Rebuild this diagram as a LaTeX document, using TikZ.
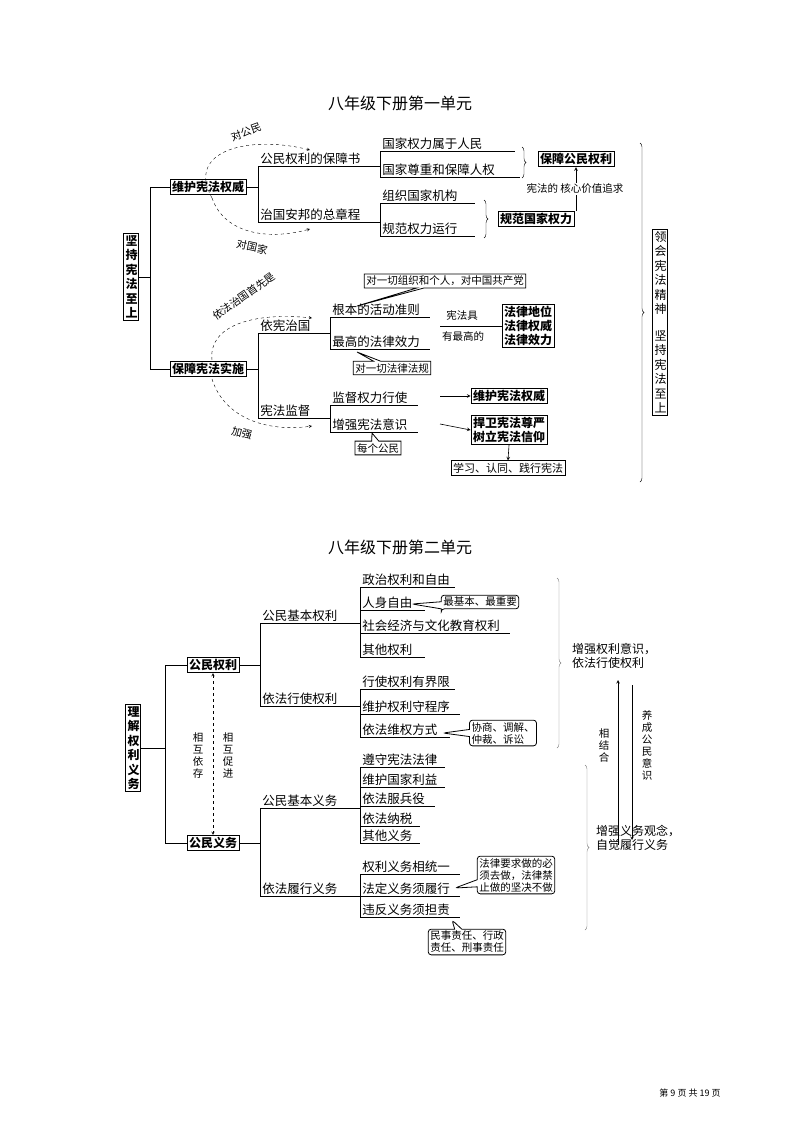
\documentclass[tikz,border=0pt]{standalone}
\usepackage{fontspec}
\setmainfont{Noto Sans CJK SC}
\usetikzlibrary{arrows, shapes.callouts, decorations.pathreplacing}

\tikzset{
  box/.style = {draw, thick, inner sep = 2pt, font = \fontsize{12}{14}\selectfont\bfseries},
  vbox/.style = {box, text width = 1.1em, align = center, font = \fontsize{12}{14.5}\selectfont\bfseries},
  item/.style = {anchor = south west, inner sep = 1pt, font = \fontsize{12.5}{14}\selectfont},
  small/.style = {font = \fontsize{10.5}{12}\selectfont},
  note/.style = {rectangle callout, draw, thick, small, inner sep = 2pt, align = left},
  brc/.style = {decorate, decoration = {brace, amplitude = 4pt}, thin},
  dsh/.style = {dashed, ->, >=stealth, thin}
}

% underlined leaf: name, x, y of line, text, line length
\newcommand{\leaf}[5]{\node (#1) [item] at (#2+1,#3) {#4}; \draw (#2,#3) -- ++(#5,0);}

\begin{document}
\begin{tikzpicture}[x = 1pt, y = -1pt, semithick]
\useasboundingbox (0,0) rectangle (800,1130);

% ---------- unit one ----------
\node (t1) at (400,103) {\fontsize{16}{19}\selectfont 八年级下册第一单元};

\node (root) [vbox] at (131,277) {坚\\持\\宪\\法\\至\\上};
\node (wh) [box] at (208,187) {维护宪法权威};
\node (bz) [box] at (208,369) {保障宪法实施};
\draw (root.east) -- (150,277); \draw (150,187) -- (wh.west);
\draw (150,187) -- (150,369) -- (bz.west);

\draw (wh.east) -- (258,187); \draw (258,166) -- (258,222);
\leaf{bzs}{258}{166}{公民权利的保障书}{122}
\leaf{zg}{258}{222}{治国安邦的总章程}{122}
\draw (380,151) -- (380,177);
\leaf{gj}{380}{151}{国家权力属于人民}{135}
\leaf{zz}{380}{177}{国家尊重和保障人权}{140}
\draw (380,203) -- (380,236);
\leaf{zj}{380}{203}{组织国家机构}{95}
\leaf{gf}{380}{236}{规范权力运行}{95}
\draw [brc] (522,147) -- (522,178);
\node (bgm) [box] at (576,159) {保障公民权利};
\draw [brc] (484,200) -- (484,238);
\node (gfq) [box] at (536,219) {规范国家权力};
\draw [->, >=stealth] (gfq.north -| bgm.south) -- (bgm.south);
\node (hx) [small, fill = white, inner sep = 1pt] at (575,189) {宪法的\ 核心价值追求};

\draw [dsh] (212,198) .. controls (185,150) and (250,135) .. (310,150);
\node (dgm) [small, rotate = 20] at (246,132) {对公民};
\draw [dsh] (212,198) .. controls (225,235) and (270,240) .. (310,229);
\node (dgj) [small, rotate = -12] at (252,247) {对国家};

\draw (bz.east) -- (258,369); \draw (258,333) -- (258,418);
\leaf{yx}{258}{333}{依宪治国}{72}
\leaf{jd}{258}{418}{宪法监督}{72}
\draw (330,317) -- (330,349);
\leaf{gb}{330}{317}{根本的活动准则}{100}
\leaf{zgx}{330}{349}{最高的法律效力}{100}
\node (n1) [note, callout absolute pointer = {(357,306)}] at (445,281) {对一切组织和个人，对中国共产党};
\node (n2) [note, callout absolute pointer = {(357,352)}] at (392,368) {对一切法律法规};
\node (fl) [box, align = center] at (528,326) {法律地位\\法律权威\\法律效力};
\draw (440,326) -- (fl.west);
\node (jy1) [small, anchor = south] at (462,324) {宪法具};
\node (jy2) [small, anchor = north] at (463,328) {有最高的};

\draw (330,405) -- (330,432);
\leaf{jdq}{330}{405}{监督权力行使}{88}
\leaf{zq}{330}{432}{增强宪法意识}{88}
\node (wq) [box] at (509,396) {维护宪法权威};
\node (hw) [box, align = center] at (509,430) {捍卫宪法尊严\\树立宪法信仰};
\node (xx) [box, font = \fontsize{11}{13}\selectfont] at (508,468) {学习、认同、践行宪法};
\draw [->, >=stealth] (440,396) -- (wq.west);
\draw [->, >=stealth] (440,424) -- (hw.west);
\draw [->, >=stealth] (hw.south) -- (xx.north);
\node (n3) [note, callout absolute pointer = {(372,433)}] at (378,448) {每个公民};

\draw [dsh] (212,360) .. controls (208,325) and (255,312) .. (312,318);
\node (sx) [small, rotate = 35] at (244,296) {依法治国首先是};
\draw [dsh] (212,379) .. controls (225,420) and (270,432) .. (312,426);
\node (jq) [small, rotate = -15] at (242,433) {加强};

\draw [brc] (640,143) -- (640,482);
\node (lh) [vbox, font = \fontsize{12}{14.5}\selectfont] at (660,322) {领\\会\\宪\\法\\精\\神\\[1em]坚\\持\\宪\\法\\至\\上};

% ---------- unit two ----------
\node (t2) at (400,547) {\fontsize{16}{19}\selectfont 八年级下册第二单元};

\node (root2) [vbox] at (133,748) {理\\解\\权\\利\\义\\务};
\node (qr) [box] at (213,665) {公民权利};
\node (yw) [box] at (213,843) {公民义务};
\draw (root2.east) -- (165,748); \draw (165,665) -- (qr.west);
\draw (165,665) -- (165,843) -- (yw.west);
\draw [dashed, <->, >=stealth, thin] (qr.south) -- (yw.north);
\node (hy) [small, align = center] at (198,755) {相\\互\\依\\存};
\node (hc) [small, align = center] at (228,755) {相\\互\\促\\进};

\draw (qr.east) -- (260,665); \draw (260,623) -- (260,706);
\leaf{jbq}{260}{623}{公民基本权利}{100}
\leaf{xsq}{260}{706}{依法行使权利}{100}
\draw (360,587) -- (360,657);
\leaf{zzq}{360}{587}{政治权利和自由}{95}
\leaf{rs}{360}{610}{人身自由}{65}
\leaf{sh}{360}{633}{社会经济与文化教育权利}{150}
\leaf{qt}{360}{657}{其他权利}{65}
\node (n4) [note, rounded corners = 3pt, callout absolute pointer = {(412,604)}] at (480,602) {最基本、最重要};
\draw (360,689) -- (360,737);
\leaf{jx}{360}{689}{行使权利有界限}{95}
\leaf{cx}{360}{714}{维护权利守程序}{100}
\leaf{fs}{360}{737}{依法维权方式}{90}
\node (n5) [note, rounded corners = 3pt, callout absolute pointer = {(443,733)}] at (503,733) {协商、调解、\\仲裁、诉讼};
\draw [brc, gray] (557,578) -- (557,748);
\node (qy) [align = left, font = \fontsize{12}{14}\selectfont] at (614,656) {增强权利意识，\\依法行使权利};

\draw [->, >=stealth] (618,845) -- (618,680);
\draw [->, >=stealth] (632,685) -- (632,840);
\node (xj) [small, align = center] at (604,745) {相\\结\\合};
\node (yc) [small, align = center] at (647,745) {养\\成\\公\\民\\意\\识};
\draw [brc, gray] (585,765) -- (585,930);
\node (yg) [align = left, font = \fontsize{12}{14}\selectfont] at (638,838) {增强义务观念，\\自觉履行义务};

\draw (yw.east) -- (260,843); \draw (260,808) -- (260,896);
\leaf{jby}{260}{808}{公民基本义务}{100}
\leaf{lx}{260}{896}{依法履行义务}{100}
\draw (360,767) -- (360,843);
\leaf{zs}{360}{767}{遵守宪法法律}{85}
\leaf{wh2}{360}{787}{维护国家利益}{85}
\leaf{by}{360}{806}{依法服兵役}{75}
\leaf{ns}{360}{826}{依法纳税}{60}
\leaf{qty}{360}{843}{其他义务}{60}
\draw (360,874) -- (360,917);
\leaf{ty}{360}{874}{权利义务相统一}{100}
\leaf{lx2}{360}{896}{法定义务须履行}{100}
\leaf{dz}{360}{917}{违反义务须担责}{100}
\node (n6) [note, rounded corners = 3pt, callout absolute pointer = {(455,888)}] at (516,875) {法律要求做的必\\须去做，法律禁\\止做的坚决不做};
\node (n7) [note, rounded corners = 3pt, callout absolute pointer = {(452,920)}] at (467,942) {民事责任、行政\\责任、刑事责任};

\node (pg) [font = \fontsize{9}{11}\selectfont] at (690,1093) {第 9 页 共 19 页};
\end{tikzpicture}
\end{document}
